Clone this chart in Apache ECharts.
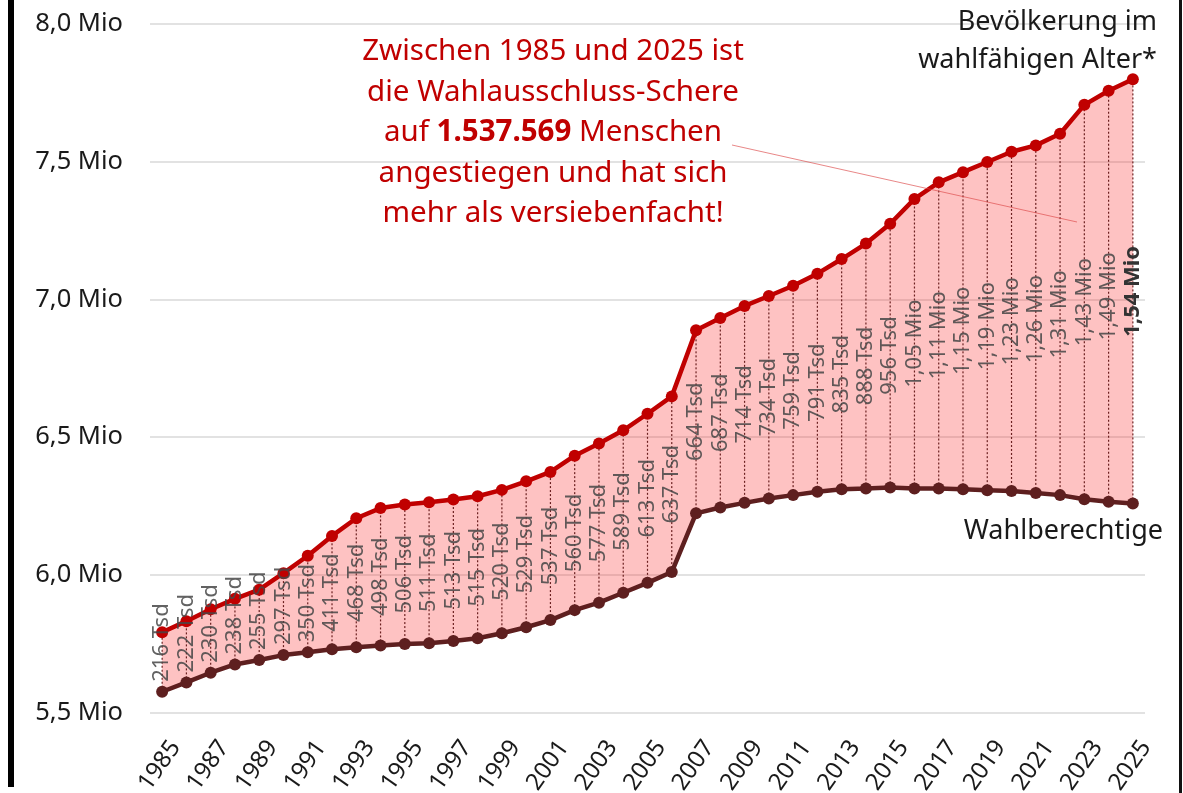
<!DOCTYPE html>
<html>
<head>
<meta charset="utf-8">
<script src="https://cdn.jsdelivr.net/npm/echarts@6/dist/echarts.min.js"></script>
<style>
  html, body { margin: 0; padding: 0; background: #fff; }
  #chart { width: 1183px; height: 793px; }
</style>
</head>
<body>
<div id="chart"></div>
<script>
// Jahre
var jahre = ['1985','1986','1987','1988','1989','1990','1991','1992','1993','1994',
    '1995','1996','1997','1998','1999','2000','2001','2002','2003','2004',
    '2005','2006','2007','2008','2009','2010','2011','2012','2013','2014',
    '2015','2016','2017','2018','2019','2020','2021','2022','2023','2024','2025'];

// Bevölkerung im wahlfähigen Alter (Mio)
var bevoelkerung = [5.793, 5.833, 5.876, 5.914, 5.947, 6.007, 6.070, 6.142, 6.206, 6.243,
    6.256, 6.264, 6.274, 6.286, 6.309, 6.340, 6.374, 6.433, 6.477, 6.525,
    6.585, 6.648, 6.888, 6.932, 6.976, 7.012, 7.049, 7.093, 7.146, 7.202,
    7.274, 7.364, 7.424, 7.461, 7.498, 7.535, 7.558, 7.600, 7.705, 7.756, 7.798];

// Wahlberechtigte (Mio)
var wahlberechtigte = [5.577, 5.611, 5.646, 5.676, 5.692, 5.710, 5.720, 5.731, 5.738, 5.745,
    5.750, 5.753, 5.761, 5.771, 5.789, 5.811, 5.837, 5.873, 5.900, 5.936,
    5.972, 6.011, 6.224, 6.245, 6.262, 6.278, 6.290, 6.302, 6.311, 6.314,
    6.318, 6.314, 6.314, 6.311, 6.308, 6.305, 6.298, 6.290, 6.275, 6.266, 6.260];

// Differenz-Beschriftung
var luecke = ['216 Tsd','222 Tsd','230 Tsd','238 Tsd','255 Tsd','297 Tsd','350 Tsd','411 Tsd','468 Tsd','498 Tsd',
    '506 Tsd','511 Tsd','513 Tsd','515 Tsd','520 Tsd','529 Tsd','537 Tsd','560 Tsd','577 Tsd','589 Tsd',
    '613 Tsd','637 Tsd','664 Tsd','687 Tsd','714 Tsd','734 Tsd','759 Tsd','791 Tsd','835 Tsd','888 Tsd',
    '956 Tsd','1,05 Mio','1,11 Mio','1,15 Mio','1,19 Mio','1,23 Mio','1,26 Mio','1,31 Mio','1,43 Mio','1,49 Mio','1,54 Mio'];

var yTicks = [5.5, 6.0, 6.5, 7.0, 7.5, 8.0];

var FONT = '"Noto Sans", "Open Sans", sans-serif';
var ROT = '#c00000';
var DUNKEL = '#5e1f1f';

var chart = echarts.init(document.getElementById('chart'));

var measureCtx = document.createElement('canvas').getContext('2d');
function textWidth(txt, bold) {
    measureCtx.font = (bold ? 'bold ' : '') + '22px ' + FONT;
    return measureCtx.measureText(txt).width;
}

var bandBase = wahlberechtigte.slice();
var bandDiff = bevoelkerung.map(function (v, i) { return +(v - wahlberechtigte[i]).toFixed(4); });
var customData = jahre.map(function (j, i) { return [i, wahlberechtigte[i], bevoelkerung[i]]; });

var option = {
    animation: false,
    grid: { left: 150, right: 38, top: 23.5, bottom: 80, outerBoundsMode: 'none', containLabel: false },
    xAxis: {
        type: 'category',
        data: jahre,
        boundaryGap: true,
        axisLine: { show: false },
        axisTick: { show: false },
        axisLabel: {
            interval: 1,
            rotate: 55,
            verticalAlign: 'top',
            padding: [0, -6, 0, 0],
            margin: 28,
            fontSize: 24,
            fontFamily: FONT,
            color: '#1a1a1a'
        }
    },
    yAxis: {
        type: 'value',
        min: yTicks[0],
        max: yTicks[yTicks.length - 1],
        interval: 0.5,
        axisLine: { show: false },
        axisTick: { show: false },
        splitLine: { lineStyle: { color: '#d9d9d9', width: 1.5 } },
        axisLabel: {
            margin: 27,
            fontSize: 25.5,
            fontFamily: FONT,
            color: '#1a1a1a',
            formatter: function (v) { return v.toFixed(1).replace('.', ',') + ' Mio'; }
        }
    },
    series: [
        {
            name: 'basis',
            type: 'line',
            stack: 'band',
            data: bandBase,
            symbol: 'none',
            lineStyle: { opacity: 0 },
            silent: true,
            z: 1
        },
        {
            name: 'schere',
            type: 'line',
            stack: 'band',
            data: bandDiff,
            symbol: 'none',
            lineStyle: { opacity: 0 },
            areaStyle: { color: 'rgba(250, 20, 20, 0.26)', opacity: 1 },
            silent: true,
            z: 1
        },
        {
            // gepunktete Verbindungslinien
            type: 'custom',
            data: customData,
            silent: true,
            z: 2,
            renderItem: function (params, api) {
                var pLow = api.coord([api.value(0), api.value(1)]);
                var pUp = api.coord([api.value(0), api.value(2)]);
                return {
                    type: 'line',
                    shape: { x1: pLow[0], y1: pLow[1], x2: pUp[0], y2: pUp[1] },
                    style: { stroke: '#6b2020', lineWidth: 1.2, lineDash: [2, 2] }
                };
            }
        },
        {
            name: 'Bevölkerung im wahlfähigen Alter',
            type: 'line',
            data: bevoelkerung,
            symbol: 'circle',
            symbolSize: 12,
            itemStyle: { color: ROT },
            lineStyle: { color: ROT, width: 4.5 },
            z: 3
        },
        {
            name: 'Wahlberechtigte',
            type: 'line',
            data: wahlberechtigte,
            symbol: 'circle',
            symbolSize: 12,
            itemStyle: { color: DUNKEL },
            lineStyle: { color: DUNKEL, width: 4.5 },
            z: 3
        },
        {
            // Beschriftung der Differenz
            type: 'custom',
            data: customData,
            silent: true,
            z: 4,
            renderItem: function (params, api) {
                var i = params.dataIndex;
                var last = i === jahre.length - 1;
                var txt = luecke[i];
                var pLow = api.coord([api.value(0), api.value(1)]);
                var pUp = api.coord([api.value(0), api.value(2)]);
                var half = textWidth(txt, last) / 2;
                var cy = Math.min((pLow[1] + pUp[1]) / 2, pLow[1] - 10 - half);
                return {
                    type: 'text',
                    x: pLow[0],
                    y: cy,
                    rotation: Math.PI / 2,
                    style: {
                        text: txt,
                        fill: last ? '#333' : 'rgba(70,70,70,0.85)',
                        fontSize: 22,
                        fontFamily: FONT,
                        fontWeight: last ? 'bold' : 'normal',
                        align: 'center',
                        verticalAlign: 'middle'
                    }
                };
            }
        }
    ],
    graphic: [
        // Rahmen links und rechts
        { type: 'rect', left: 8, top: 0, shape: { width: 6, height: 787 }, style: { fill: '#000' }, silent: true },
        { type: 'rect', left: 1179, top: 0, shape: { width: 3, height: 793 }, style: { fill: '#111' }, silent: true },
        // Hinweislinie
        {
            type: 'line', silent: true, z: 5,
            shape: { x1: 732, y1: 145, x2: 1077, y2: 222 },
            style: { stroke: 'rgba(220, 70, 70, 0.65)', lineWidth: 1 }
        },
        {
            type: 'text', silent: true, z: 10,
            x: 553, y: 31.5,
            style: {
                text: 'Zwischen 1985 und 2025 ist\ndie Wahlausschluss-Schere\nauf {b|1.537.569} Menschen\nangestiegen und hat sich\nmehr als versiebenfacht!',
                fill: ROT,
                fontSize: 29.5,
                fontFamily: FONT,
                lineHeight: 40.5,
                align: 'center',
                verticalAlign: 'top',
                rich: {
                    b: { fontWeight: 'bold', fontSize: 29.5, fontFamily: FONT, fill: ROT, lineHeight: 40.5 }
                }
            }
        },
        {
            type: 'text', silent: true, z: 10,
            x: 1157, y: 3,
            style: {
                text: 'Bevölkerung im\nwahlfähigen Alter*',
                fill: '#1a1a1a',
                fontSize: 27,
                fontFamily: FONT,
                lineHeight: 38,
                align: 'right',
                verticalAlign: 'top'
            }
        },
        {
            type: 'text', silent: true, z: 10,
            x: 1163, y: 531,
            style: {
                text: 'Wahlberechtige',
                fill: '#1a1a1a',
                fontSize: 27,
                fontFamily: FONT,
                align: 'right',
                verticalAlign: 'middle'
            }
        }
    ]
};

chart.setOption(option);
</script>
</body>
</html>
